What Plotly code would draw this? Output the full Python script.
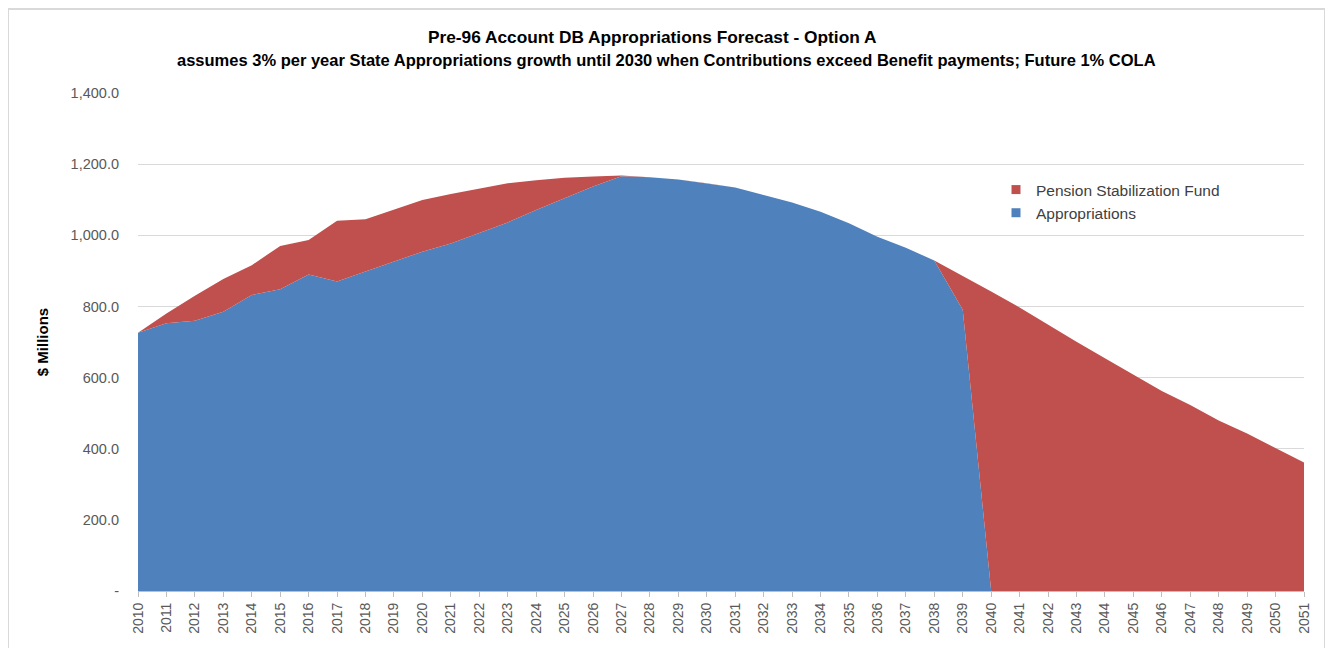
import plotly.graph_objects as go

years = list(range(2010, 2052))

appropriations = [726, 753, 760, 785, 832, 848, 890, 870, 898, 926,
                  954, 977, 1006, 1036, 1071, 1104, 1137, 1166, 1163, 1157,
                  1146, 1134, 1113, 1092, 1066, 1034, 996, 965, 929, 791,
                  0, 0, 0, 0, 0, 0, 0, 0, 0, 0,
                  0, 0]

pension_stabilization = [0, 27, 70, 92, 84, 122, 97, 171, 147, 145,
                         145, 139, 126, 110, 84, 58, 28, 2, 0, 0,
                         0, 0, 0, 0, 0, 0, 0, 0, 0, 95,
                         842, 797, 748, 701, 654, 607, 562, 523, 479, 443,
                         401, 361]

y_ticks = [0, 200, 400, 600, 800, 1000, 1200, 1400]
y_tick_text = ["-", "200.0", "400.0", "600.0", "800.0", "1,000.0", "1,200.0", "1,400.0"]

BLUE = "#4F81BD"
RED = "#C0504D"

fig = go.Figure()
fig.add_trace(go.Scatter(x=years, y=appropriations, stackgroup="one", mode="lines",
                         line=dict(width=0, color=BLUE), fillcolor=BLUE,
                         name="Appropriations", showlegend=False, hoverinfo="x+y"))
fig.add_trace(go.Scatter(x=years, y=pension_stabilization, stackgroup="one", mode="lines",
                         line=dict(width=0, color=RED), fillcolor=RED,
                         name="Pension Stabilization Fund", showlegend=False, hoverinfo="x+y"))
# legend entries
fig.add_trace(go.Scatter(x=[None], y=[None], mode="markers",
                         marker=dict(symbol="square", size=9, color=RED),
                         name="Pension Stabilization Fund"))
fig.add_trace(go.Scatter(x=[None], y=[None], mode="markers",
                         marker=dict(symbol="square", size=9, color=BLUE),
                         name="Appropriations"))

OFF = 8  # page body margin
W, H = 1333 - OFF, 648 - OFF
L, R, T, B = 138 - OFF, 29, 93 - OFF, 57
pw = W - L - R
ph = H - T - B


def px_x(p):
    return (p - OFF - L) / pw


def px_y(p):
    return (H - B - (p - OFF)) / ph


TITLE_FONT = "Liberation Sans"

fig.update_layout(
    width=W, height=H,
    margin=dict(l=L, r=R, t=T, b=B),
    paper_bgcolor="white", plot_bgcolor="white",
    font=dict(family="Liberation Sans", color="#595959", size=14),
    showlegend=True,
    legend=dict(x=px_x(996), y=px_y(173), xanchor="left", yanchor="top",
                traceorder="normal",
                bgcolor="rgba(0,0,0,0)", tracegroupgap=0,
                font=dict(family="Liberation Sans", size=15.5, color="#404040"),
                itemwidth=30),
    xaxis=dict(range=[2010, 2051], tickmode="array", tickvals=years,
               ticktext=[str(y) for y in years], tickangle=-90,
               showgrid=False, zeroline=False, showline=True, linecolor="#BFBFBF", linewidth=1,
               ticks="outside", ticklen=5, tickcolor="#BFBFBF",
               tickfont=dict(size=14, color="#595959")),
    yaxis=dict(range=[0, 1400], tickmode="array", tickvals=y_ticks, ticktext=y_tick_text,
               showgrid=True, gridcolor="#D9D9D9", gridwidth=1, zeroline=False,
               showline=False, ticks="", ticklabelstandoff=18,
               tickfont=dict(size=14.5, color="#595959"),
               title=dict(text="<b>$ Millions</b>", standoff=18,
                          font=dict(size=15, color="#000000", family=TITLE_FONT))),
    annotations=[
        dict(text="<b>Pre-96 Account DB Appropriations Forecast - Option A</b>",
             x=px_x(652), y=px_y(37), xref="paper", yref="paper", showarrow=False,
             font=dict(size=17.3, color="#000000", family=TITLE_FONT),
             xanchor="center", yanchor="middle"),
        dict(text="<b>assumes 3% per year State Appropriations growth until 2030 when Contributions exceed Benefit payments; Future 1% COLA</b>",
             x=px_x(666), y=px_y(60), xref="paper", yref="paper", showarrow=False,
             font=dict(size=16.5, color="#000000", family=TITLE_FONT),
             xanchor="center", yanchor="middle"),
    ],
    shapes=[
        dict(type="rect", xref="paper", yref="paper",
             x0=px_x(8), x1=px_x(1325), y0=px_y(700), y1=px_y(9),
             line=dict(color="#D9D9D9", width=2), fillcolor="rgba(0,0,0,0)", layer="below"),
    ],
)

fig.write_html("out.html")
